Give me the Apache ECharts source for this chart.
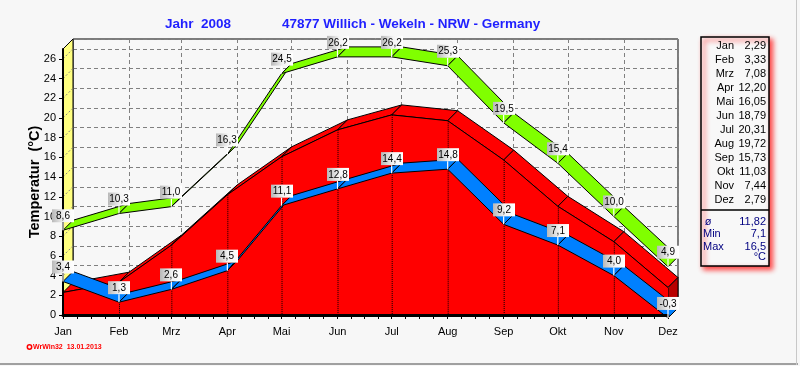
<!DOCTYPE html>
<html><head><meta charset="utf-8">
<script src="https://cdn.jsdelivr.net/npm/echarts@6/dist/echarts.min.js"></script>
<style>html,body{margin:0;padding:0;background:#f7f7f7}#c{width:800px;height:366px}</style>
</head><body><div id="c"></div>
<script>
// ---------- data ----------
const months = ['Jan','Feb','Mrz','Apr','Mai','Jun','Jul','Aug','Sep','Okt','Nov','Dez'];
const monthDates = ['2008-01-01','2008-02-01','2008-03-01','2008-04-01','2008-05-01','2008-06-01',
                    '2008-07-01','2008-08-01','2008-09-01','2008-10-01','2008-11-01','2008-12-01'];
const maxTemps  = [8.6, 10.3, 11.0, 16.3, 24.5, 26.2, 26.2, 25.3, 19.5, 15.4, 10.0, 4.9];
const meanTemps = [2.29, 3.33, 7.08, 12.20, 16.05, 18.79, 20.31, 19.72, 15.73, 11.03, 7.44, 2.79];
const minTemps  = [3.4, 1.3, 2.6, 4.5, 11.1, 12.8, 14.4, 14.8, 9.2, 7.1, 4.0, -0.3];
const tableValues = ['2,29','3,33','7,08','12,20','16,05','18,79','20,31','19,72','15,73','11,03','7,44','2,79'];
const statLabels = ['ø','Min','Max'];
const statValues = ['11,82','7,1','16,5'];
const statUnit = '°C';
const yMin = 0, yMax = 27, yStep = 2;
const titleYear = 'Jahr  2008';
const titleStation = '47877 Willich - Wekeln - NRW - Germany';
const yAxisTitle = 'Temperatur  (°C)';
const footerText = 'WrWin32  13.01.2013';

// ---------- helpers ----------
const DX = 10, DY = -10;               // 3D depth offset (px)
const toTs = s => { const p = s.split('-'); return new Date(+p[0], +p[1] - 1, +p[2]).getTime(); };
const monthDays = monthDates.map(s => Math.round((toTs(s) - toTs(monthDates[0])) / 864e5)); // day offsets
const n = months.length;
const tickDays = [];
for (let i = 0; i < n - 1; i++) {
  for (let k = 0; k < 4; k++) tickDays.push(monthDays[i] + k * (monthDays[i + 1] - monthDays[i]) / 4);
}
tickDays.push(monthDays[n - 1]);
const pts = arr => arr.map((v, i) => [monthDays[i], v]);
const shift = p => [p[0] + DX, p[1] + DY];
const fmt = v => v.toFixed(1).replace('.', ',');
const monthLabel = v => { const i = monthDays.indexOf(Math.round(v)); return i >= 0 ? months[i] : ''; };

function ribbon(values, color) {
  return function (params, api) {
    const i = params.dataIndex;
    if (i >= values.length - 1) return null;
    const a = api.coord([api.value(0), api.value(1)]);
    const b = api.coord([monthDays[i + 1], values[i + 1]]);
    return { type: 'polygon', shape: { points: [a, b, shift(b), shift(a)] },
             style: { fill: color, stroke: '#000', lineWidth: 1 } };
  };
}
function labels() {
  return function (params, api) {
    const p = api.coord([api.value(0), api.value(1)]);
    const w = 22, h = 13, gap = 8;
    const x = Math.round(p[0] - w / 2), yb = p[1] - gap;
    return { type: 'group', children: [
      { type: 'line', shape: { x1: p[0], y1: p[1], x2: p[0], y2: yb }, style: { stroke: '#fff', lineWidth: 1.2 } },
      { type: 'rect', shape: { x: x, y: yb - h, width: w, height: h },
        style: { fill: new echarts.graphic.LinearGradient(0, 0, 1, 0, [
          { offset: 0, color: '#b8b8b8' }, { offset: 0.55, color: '#f4f4f4' }, { offset: 1, color: '#ffffff' }]) } },
      { type: 'text', style: { text: fmt(api.value(1)), x: x + w / 2, y: yb - h / 2 + 0.5,
        align: 'center', verticalAlign: 'middle', font: '10px Arial', fill: '#000' } }
    ] };
  };
}

const chart = echarts.init(document.getElementById('c'), null, { renderer: 'canvas' });
const gridColor = '#808080';
const xMin = monthDays[0], xMax = monthDays[n - 1];

chart.setOption({
  animation: false,
  backgroundColor: '#f7f7f7',
  grid: [
    { left: 63, right: 132, top: 49, bottom: 51, outerBoundsMode: 'none' },
    { left: 63 + DX, right: 132 - DX, top: 49 + DY, bottom: 51 - DY, outerBoundsMode: 'none',
      show: true, borderColor: '#000', borderWidth: 1, backgroundColor: '#f7f7f7' }
  ],
  xAxis: [
    { type: 'value', gridIndex: 0, min: xMin, max: xMax, offset: 1.5, z: 8,
      axisLine: { show: true, lineStyle: { color: '#000', width: 3 } },
      axisTick: { show: true, length: 4, customValues: tickDays, lineStyle: { color: '#000', width: 1 } },
      axisLabel: { customValues: monthDays, formatter: monthLabel,
                   fontSize: 11, fontFamily: 'Arial', color: '#000', margin: 10 },
      splitLine: { show: false } },
    { type: 'value', gridIndex: 1, min: xMin, max: xMax,
      axisLine: { show: false }, axisTick: { show: false, customValues: monthDays },
      axisLabel: { show: false, customValues: monthDays },
      splitLine: { show: true, lineStyle: { color: gridColor, type: [4, 3], width: 1 } } }
  ],
  yAxis: [
    { type: 'value', gridIndex: 0, min: yMin, max: yMax, interval: yStep, z: 8,
      name: yAxisTitle, nameLocation: 'middle', nameGap: 21, nameMoveOverlap: false,
      nameTextStyle: { fontSize: 14.5, fontWeight: 'bold', fontFamily: 'Arial', color: '#000' },
      axisLine: { show: true, lineStyle: { color: '#000', width: 2 } },
      axisTick: { show: true, length: 4, lineStyle: { color: '#000' } },
      axisLabel: { fontSize: 11, fontFamily: 'Arial', color: '#000', margin: 7, showMaxLabel: false },
      splitLine: { show: false } },
    { type: 'value', gridIndex: 1, min: yMin, max: yMax, interval: yStep,
      axisLine: { show: false }, axisTick: { show: false }, axisLabel: { show: false },
      splitLine: { show: true, lineStyle: { color: gridColor, type: [4, 3], width: 1 } } }
  ],
  series: [
    // yellow left wall
    { type: 'custom', z: 2, xAxisIndex: 0, yAxisIndex: 0, data: [[xMin, yMin]], encode: { x: 0, y: 1 },
      renderItem: function (params, api) {
        const b = api.coord([xMin, yMin]), t = api.coord([xMin, yMax]);
        const ch = [{ type: 'polygon', shape: { points: [b, t, shift(t), shift(b)] },
                      style: { fill: '#ffff80', stroke: '#000', lineWidth: 1 } }];
        for (let v = yMin; v < yMax; v += yStep) {
          const p = api.coord([xMin, v]);
          ch.push({ type: 'line', shape: { x1: p[0], y1: p[1], x2: p[0] + DX, y2: p[1] + DY },
                    style: { stroke: gridColor, lineWidth: 1, lineDash: [2, 2] } });
        }
        return { type: 'group', children: ch };
      } },
    // red mean: top faces + end cap
    { type: 'custom', z: 3, xAxisIndex: 0, yAxisIndex: 0, data: pts(meanTemps), encode: { x: 0, y: 1 },
      renderItem: function (params, api) {
        const i = params.dataIndex;
        const a = api.coord([api.value(0), api.value(1)]);
        if (i < n - 1) {
          const b = api.coord([monthDays[i + 1], meanTemps[i + 1]]);
          return { type: 'polygon', shape: { points: [a, b, shift(b), shift(a)] },
                   style: { fill: '#ff0000', stroke: '#000', lineWidth: 1 } };
        }
        const z = api.coord([api.value(0), yMin]);
        return { type: 'polygon', shape: { points: [z, a, shift(a), shift(z)] },
                 style: { fill: '#b80000', stroke: '#000', lineWidth: 1 } };
      } },
    // red mean: front face
    { type: 'line', z: 4, xAxisIndex: 0, yAxisIndex: 0, data: pts(meanTemps), symbol: 'none',
      lineStyle: { color: '#000', width: 1 }, areaStyle: { color: '#ff0000', opacity: 1 } },
    // dotted month dividers on front face
    { type: 'custom', z: 5, xAxisIndex: 0, yAxisIndex: 0, data: pts(meanTemps), encode: { x: 0, y: 1 },
      renderItem: function (params, api) {
        const i = params.dataIndex;
        if (i === 0 || i === n - 1) return null;
        const a = api.coord([api.value(0), api.value(1)]), z = api.coord([api.value(0), yMin]);
        return { type: 'line', shape: { x1: a[0] + 0.5, y1: a[1], x2: z[0] + 0.5, y2: z[1] },
                 style: { stroke: '#000', lineWidth: 1, lineDash: [1, 1] } };
      } },
    // blue min ribbon
    { type: 'custom', z: 6, xAxisIndex: 0, yAxisIndex: 0, data: pts(minTemps), encode: { x: 0, y: 1 },
      renderItem: ribbon(minTemps, '#0080ff') },
    // green max ribbon
    { type: 'custom', z: 6, xAxisIndex: 0, yAxisIndex: 0, data: pts(maxTemps), encode: { x: 0, y: 1 },
      renderItem: ribbon(maxTemps, '#80ff00') },
    // floor dotted edge
    { type: 'custom', z: 7, xAxisIndex: 0, yAxisIndex: 0, data: [[xMin, yMin]], encode: { x: 0, y: 1 },
      renderItem: function (params, api) {
        const a = api.coord([xMin, yMin]), b = api.coord([xMax, yMin]);
        return { type: 'group', children: [
          { type: 'line', shape: { x1: a[0], y1: a[1] - 0.5, x2: b[0], y2: b[1] - 0.5 }, style: { stroke: '#000', lineWidth: 1 } },
          { type: 'line', shape: { x1: a[0], y1: a[1] - 0.5, x2: b[0], y2: b[1] - 0.5 }, style: { stroke: '#ffff40', lineWidth: 1, lineDash: [1, 1] } }
        ] };
      } },
    // value labels
    { type: 'custom', z: 9, xAxisIndex: 0, yAxisIndex: 0, data: pts(minTemps), encode: { x: 0, y: 1 },
      renderItem: labels() },
    { type: 'custom', z: 9, xAxisIndex: 0, yAxisIndex: 0, data: pts(maxTemps), encode: { x: 0, y: 1 },
      renderItem: labels() }
  ],
  graphic: (function () {
    const g = [];
    g.push({ type: 'text', x: 165, y: 24, style: { text: titleYear, font: 'bold 13.5px Arial', fill: '#1f1fff', verticalAlign: 'middle' } });
    g.push({ type: 'text', x: 282, y: 24, style: { text: titleStation, font: 'bold 13.5px Arial', fill: '#1f1fff', verticalAlign: 'middle' } });
    // side table
    g.push({ type: 'rect', shape: { x: 701, y: 37, width: 68, height: 229 },
             style: { fill: '#f8f8f8', stroke: '#000', lineWidth: 1.5,
                      shadowColor: 'rgba(255,40,40,0.9)', shadowBlur: 5, shadowOffsetX: 3, shadowOffsetY: 3 } });
    g.push({ type: 'line', shape: { x1: 701, y1: 210, x2: 769, y2: 210 }, style: { stroke: '#000', lineWidth: 1.5 } });
    months.forEach((m, i) => {
      const y = 45.5 + 14.05 * i;
      g.push({ type: 'text', x: 734, y: y, style: { text: m, font: '11px Arial', fill: '#000', align: 'right', verticalAlign: 'middle' } });
      g.push({ type: 'text', x: 766, y: y, style: { text: tableValues[i], font: '11px Arial', fill: '#000', align: 'right', verticalAlign: 'middle' } });
    });
    const sy = [222, 233.5, 246.5];
    statLabels.forEach((s, i) => {
      g.push({ type: 'text', x: i === 0 ? 708 : 703, y: sy[i], style: { text: s, font: '11px Arial', fill: '#000080', align: i === 0 ? 'center' : 'left', verticalAlign: 'middle' } });
      g.push({ type: 'text', x: 766, y: sy[i], style: { text: statValues[i], font: '11px Arial', fill: '#000080', align: 'right', verticalAlign: 'middle' } });
    });
    g.push({ type: 'text', x: 766, y: 257, style: { text: statUnit, font: '11px Arial', fill: '#000080', align: 'right', verticalAlign: 'middle' } });
    // footer
    g.push({ type: 'circle', shape: { cx: 29.5, cy: 347, r: 2.2 }, style: { fill: '#f7f7f7', stroke: '#ff0000', lineWidth: 1.5 } });
    g.push({ type: 'text', x: 33, y: 347.5, style: { text: footerText, font: 'bold 7px Arial', fill: '#ff0000', verticalAlign: 'middle' } });
    // outer frame
    g.push({ type: 'rect', shape: { x: 0, y: 363, width: 798, height: 2 }, style: { fill: '#a0a0a0' } });
    g.push({ type: 'rect', shape: { x: 796, y: 0, width: 1, height: 365 }, style: { fill: '#c8c8c8' } });
    return g;
  })()
});
</script>
</body></html>
